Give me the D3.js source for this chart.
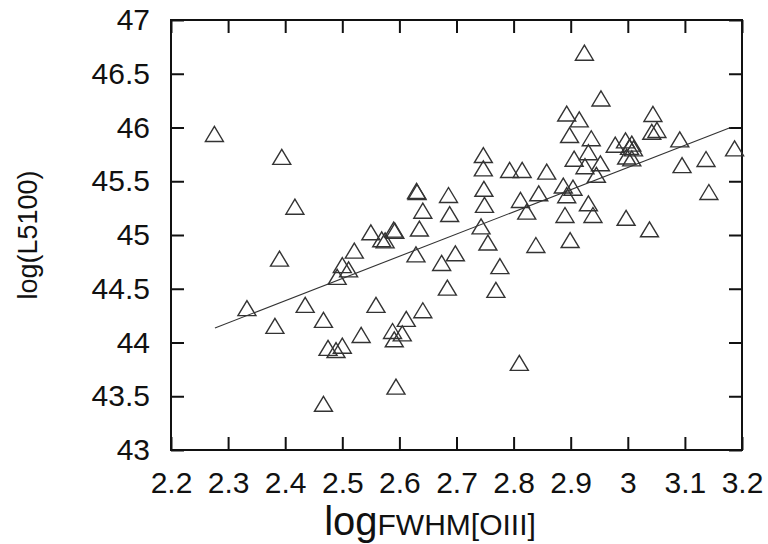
<!DOCTYPE html>
<html>
<head>
<meta charset="utf-8">
<script src="https://cdn.jsdelivr.net/npm/d3@7"></script>
<style>
  body { margin: 0; background: #fff; }
  text { font-family: "Liberation Sans", Arial, sans-serif; fill: #111; }
</style>
</head>
<body>
<script>
// log FWHM[OIII] vs log L5100
const fwhm = [2.276, 2.333, 2.382, 2.390, 2.394, 2.417, 2.435, 2.467, 2.467, 2.475,
  2.489, 2.500, 2.491, 2.500, 2.511, 2.521, 2.533, 2.550, 2.559, 2.569,
  2.575, 2.590, 2.592, 2.588, 2.591, 2.594, 2.605, 2.612, 2.629, 2.630,
  2.631, 2.635, 2.641, 2.641, 2.674, 2.684, 2.686, 2.688, 2.698, 2.743,
  2.747, 2.747, 2.748, 2.749, 2.755, 2.769, 2.776, 2.793, 2.810, 2.812,
  2.815, 2.823, 2.839, 2.844, 2.858, 2.887, 2.904, 2.893, 2.890, 2.899,
  2.931, 2.939, 2.893, 2.915, 2.898, 2.936, 2.906, 2.931, 2.925, 2.952,
  2.945, 2.924, 2.953, 2.978, 2.996, 3.007, 3.003, 3.010, 2.998, 3.007,
  3.044, 3.042, 3.051, 3.091, 3.095, 3.137, 3.187, 3.142, 2.997, 3.038];
const l5100 = [45.94, 44.32, 44.155, 44.78, 45.727, 45.263, 44.35, 44.21, 43.43, 43.95,
  43.93, 43.97, 44.61, 44.72, 44.68, 44.855, 44.07, 45.025, 44.35, 44.96,
  44.95, 45.05, 45.04, 44.107, 44.03, 43.59, 44.085, 44.22, 44.82, 45.41,
  45.40, 45.06, 45.226, 44.30, 44.74, 44.51, 45.372, 45.195, 44.83, 45.08,
  45.744, 45.62, 45.43, 45.28, 44.93, 44.49, 44.71, 45.605, 43.81, 45.326,
  45.605, 45.217, 44.907, 45.388, 45.59, 45.46, 45.44, 45.37, 45.186, 44.953,
  45.295, 45.186, 46.13, 46.076, 45.93, 45.90, 45.71, 45.77, 45.64, 45.667,
  45.56, 46.696, 46.27, 45.84, 45.88, 45.85, 45.82, 45.806, 45.73, 45.713,
  46.126, 45.96, 45.977, 45.89, 45.65, 45.707, 45.806, 45.40, 45.16, 45.053];

// fitted line end points
const fitX = [2.277, 3.180];
const fitY = [44.135, 46.00];

const xTicks = [2.2, 2.3, 2.4, 2.5, 2.6, 2.7, 2.8, 2.9, 3, 3.1, 3.2];
const yTicks = [43, 43.5, 44, 44.5, 45, 45.5, 46, 46.5, 47];

const W = 768, H = 544;
const margin = {top: 20, right: 26, bottom: 94, left: 171};
const width = W - margin.left - margin.right,
    height = H - margin.top - margin.bottom;

const svg = d3.select("body").append("svg")
    .attr("width", W)
    .attr("height", H);

const g = svg.append("g")
    .attr("transform", `translate(${margin.left},${margin.top})`);

const x = d3.scaleLinear().domain([2.2, 3.2]).range([0, width]);
const y = d3.scaleLinear().domain([43, 47]).range([height, 0]);

const tickLen = 13;
const fmt = d => String(d);

// axes with inward ticks on all sides
function styleAxis(sel) {
    sel.select(".domain").remove();
    sel.selectAll(".tick line").attr("stroke", "#111").attr("stroke-width", 2);
}
function styleLabels(sel) {
    sel.selectAll(".tick text")
        .attr("font-size", 30)
        .attr("fill", "#111")
        .style("font-family", "Liberation Sans, Arial, sans-serif");
}

g.append("g").attr("transform", `translate(0,${height})`)
    .call(d3.axisBottom(x).tickValues(xTicks).tickSizeInner(-tickLen).tickPadding(22).tickFormat(fmt))
    .call(styleAxis)
    .call(styleLabels);

g.append("g")
    .call(d3.axisTop(x).tickValues(xTicks).tickSizeInner(-tickLen).tickFormat(""))
    .call(styleAxis);

g.append("g")
    .call(d3.axisLeft(y).tickValues(yTicks).tickSizeInner(-tickLen).tickPadding(21).tickFormat(fmt))
    .call(styleAxis)
    .call(styleLabels);

g.append("g").attr("transform", `translate(${width},0)`)
    .call(d3.axisRight(y).tickValues(yTicks).tickSizeInner(-tickLen).tickFormat(""))
    .call(styleAxis);

// frame
g.append("rect")
    .attr("width", width)
    .attr("height", height)
    .attr("fill", "none")
    .attr("stroke", "#111")
    .attr("stroke-width", 2);

// fit line
g.append("line")
    .attr("x1", x(fitX[0])).attr("y1", y(fitY[0]))
    .attr("x2", x(fitX[1])).attr("y2", y(fitY[1]))
    .attr("stroke", "#333")
    .attr("stroke-width", 1.1);

// triangles
const tri = "M0,-7.5L9,7.5L-9,7.5Z";
g.selectAll(".pt")
    .data(fwhm.map((d, i) => [d, l5100[i]]))
    .enter()
    .append("path")
    .attr("class", "pt")
    .attr("d", tri)
    .attr("transform", d => `translate(${x(d[0])},${y(d[1])})`)
    .attr("fill", "none")
    .attr("stroke", "#333")
    .attr("stroke-width", 1.4);

// axis titles
svg.append("text")
    .attr("transform", `translate(37,${margin.top + height / 2}) rotate(-90)`)
    .attr("text-anchor", "middle")
    .attr("font-size", 27)
    .text("log(L5100)");

const xt = svg.append("text")
    .attr("x", 430)
    .attr("y", 535)
    .attr("text-anchor", "middle");
xt.append("tspan").attr("font-size", 40).text("log");
xt.append("tspan").attr("font-size", 30).text("FWHM[OIII]");
</script>
</body>
</html>
